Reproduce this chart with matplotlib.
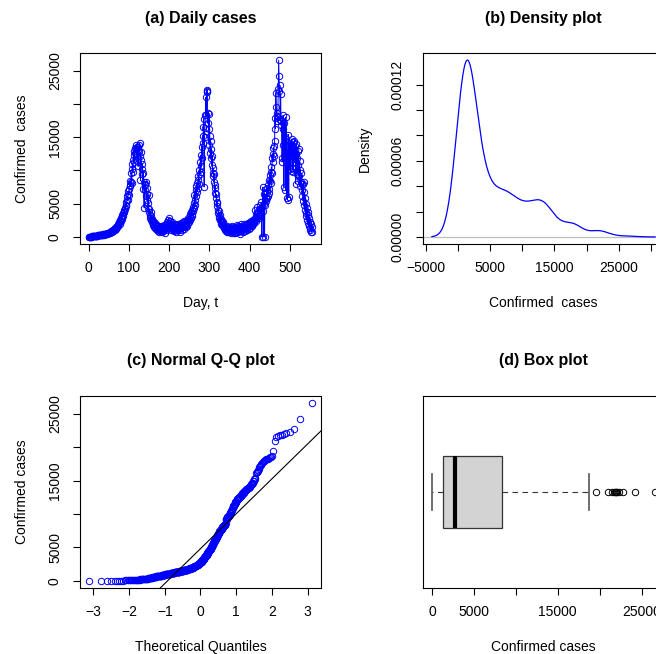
import numpy as np
import matplotlib
matplotlib.use("Agg")
import matplotlib.pyplot as plt
from statistics import NormalDist

# daily confirmed cases, day 1 .. day 555
daily_cases = [
    12, 30, 18, 45, 36, 60, 52, 75, 68, 90,
    85, 110, 96, 130, 118, 150, 140, 165, 180, 158,
    200, 190, 215, 240, 222, 260, 248, 275, 290, 268,
    310, 295, 330, 350, 322, 370, 390, 355, 410, 430,
    400, 455, 480, 440, 510, 530, 495, 560, 590, 545,
    620, 660, 610, 700, 750, 690, 820, 880, 800, 950,
    1020, 960, 1120, 1200, 1090, 1300, 1380, 1260, 1500, 1620,
    1480, 1750, 1900, 1700, 2050, 2200, 1980, 2400, 2600, 2350,
    2800, 3100, 2700, 3300, 3600, 3200, 3800, 4100, 3700, 4400,
    4200, 4800, 5200, 4600, 5600, 6100, 5500, 6400, 6900, 6300,
    7200, 7800, 8400, 7600, 8200, 9600, 8100, 10200, 10900, 9800,
    11500, 12300, 11200, 12900, 13400, 12600, 13200, 13800, 12400, 13500,
    11800, 13100, 10600, 13600, 12900, 13900, 14100, 12200, 8500, 12700,
    11500, 10200, 9400, 11000, 7200, 9600, 8300, 4400, 7800, 8000,
    7000, 8300, 6200, 7400, 5600, 6500, 5100, 4300, 6300, 3700,
    4200, 3300, 2900, 3800, 2600, 3100, 2300, 2700, 2000, 2400,
    1800, 2200, 1500, 1900, 1300, 2100, 1600, 1200, 1750, 1400,
    1100, 1650, 900, 1500, 1250, 800, 1400, 1050, 1700, 950,
    1300, 700, 1550, 1150, 850, 1450, 1000, 1800, 1200, 650,
    1600, 1350, 1900, 1100, 2200, 1500, 2500, 1700, 2800, 1400,
    2100, 1600, 2400, 1300, 1900, 1000, 1750, 2300, 1200, 1550,
    900, 1650, 1250, 2000, 1100, 1450, 800, 1850, 1350, 1000,
    1700, 1250, 1950, 1100, 1550, 750, 1800, 1300, 2100, 1400,
    1650, 1050, 1900, 1500, 2200, 1250, 1750, 2400, 1600, 2000,
    1450, 2300, 1850, 2600, 1700, 2500, 2100, 2900, 2300, 2700,
    3100, 2600, 3400, 2900, 3700, 3200, 4100, 3500, 4500, 3900,
    5100, 4400, 6300, 4800, 5600, 7000, 6100, 7600, 8100, 6800,
    7400, 8600, 9200, 7900, 10100, 9400, 11200, 9700, 12300, 10600,
    13600, 11800, 15200, 14100, 16600, 17800, 7500, 15000, 16400, 18300,
    21000, 18400, 22000, 21800, 22100, 17100, 18700, 16200, 13900, 18500,
    15200, 12600, 14500, 11800, 13300, 10800, 12100, 9600, 10400, 9100,
    8300, 9500, 7400, 6600, 7800, 5900, 6400, 5100, 4600, 5300,
    4100, 3600, 3900, 3100, 2800, 3300, 2600, 2300, 2700, 2000,
    2400, 1800, 2200, 1600, 1900, 1400, 1700, 1250, 1550, 1100,
    1450, 950, 1300, 800, 1600, 1150, 700, 1350, 1000, 1500,
    850, 1250, 600, 1400, 1050, 750, 1700, 900, 1200, 650,
    1550, 1000, 1300, 550, 1450, 1150, 800, 1800, 1050, 1350,
    700, 1600, 950, 1250, 500, 1450, 1100, 1900, 850, 1300,
    1650, 1000, 1500, 750, 1200, 1950, 1400, 900, 1750, 1150,
    1550, 1300, 2000, 1050, 1700, 1450, 2100, 1250, 1850, 1600,
    2200, 1400, 1950, 2400, 1750, 2100, 1600, 2500, 1900, 2300,
    2700, 2100, 4000, 2500, 3000, 2400, 3400, 2800, 4500, 3100,
    3600, 2900, 4200, 3300, 4800, 3800, 4400, 3500, 5200, 0,
    4600, 3900, 7500, 0, 5000, 6500, 0, 5600, 4800, 6000,
    5400, 6800, 5900, 7300, 6200, 7800, 6600, 8500, 7200, 9300,
    8400, 9700, 8100, 10500, 9600, 11800, 12500, 11300, 13400, 12200,
    13700, 14500, 17900, 16300, 21700, 19500, 18600, 18200, 17400, 18100,
    22300, 26600, 24200, 21900, 22800, 17600, 21500, 16800, 17500, 11800,
    11300, 16300, 18300, 13900, 7500, 17200, 12400, 15000, 7000, 18000,
    14700, 5800, 13200, 5600, 12600, 15400, 6000, 13800, 10200, 14200,
    12800, 9900, 13500, 14700, 12100, 10400, 14300, 9700, 13100, 12400,
    14500, 11200, 13700, 8000, 12500, 14000, 9500, 11800, 12900, 8400,
    10800, 13200, 9200, 11400, 7600, 10100, 8200, 9600, 7100, 8000,
    6200, 7900, 5400, 8300, 4800, 6700, 4100, 5800, 3600, 5000,
    3100, 4400, 2600, 3800, 2100, 3300, 1700, 2800, 1400, 2300,
    1100, 1900, 700, 1500, 800,
]

case_ticks = [0, 5000, 10000, 15000, 20000, 25000]
case_tick_labels = ["0", "5000", "", "15000", "", "25000"]
day_ticks = [0, 100, 200, 300, 400, 500]
dens_x_ticks = [-5000, 0, 5000, 10000, 15000, 20000, 25000, 30000]
dens_x_labels = ["\u22125000", "", "5000", "", "15000", "", "25000", ""]
dens_y_ticks = [0, 2e-5, 4e-5, 6e-5, 8e-5, 1e-4, 1.2e-4]
dens_y_labels = ["0.00000", "", "", "0.00006", "", "", "0.00012"]
qq_ticks = [-3, -2, -1, 0, 1, 2, 3]

BLUE = "#0000FF"
plt.rcParams["font.family"] = ["Liberation Sans", "DejaVu Sans"]
plt.rcParams["axes.unicode_minus"] = True

y = np.array(daily_cases, dtype=float)
n = len(y)
days = np.arange(1, n + 1)


def padded(lo, hi):
    d = 0.04 * (hi - lo)
    return lo - d, hi + d


W, H = 656, 654
fig = plt.figure(figsize=(W / 100, H / 100), dpi=100)


def panel(x0, top, w, h):
    ax = fig.add_axes([x0 / W, 1 - (top + h) / H, w / W, h / H])
    for s in ax.spines.values():
        s.set_linewidth(0.8)
    ax.tick_params(direction="out", length=5, width=0.8, labelsize=10, pad=7.5)
    ax.tick_params(axis="y", pad=8)
    ax._px = (w, h)
    return ax


def texts(ax, title, xlabel, ylabel=None):
    w, h = ax._px
    ax.text(0.5, 1 + 35 / h, title, transform=ax.transAxes, ha="center",
            va="center", fontsize=11.5, fontweight="bold")
    ax.text(0.5, -59 / h, xlabel, transform=ax.transAxes, ha="center",
            va="center", fontsize=10)
    if ylabel:
        ax.text(-58 / w, 0.5, ylabel, transform=ax.transAxes, ha="center",
                va="center", rotation=90, fontsize=10)


ax_a = panel(80, 53, 241, 191)
ax_b = panel(423, 53, 241, 191)
ax_c = panel(80, 396, 241, 192)
ax_d = panel(423, 396, 241, 192)

# (a) daily cases
ax_a.plot(days, y, color=BLUE, lw=0.7, marker="o", ms=4.6, mfc="none",
          mec=BLUE, mew=0.7)
ax_a.set_xlim(*padded(days.min(), days.max()))
ax_a.set_ylim(*padded(y.min(), y.max()))
ax_a.set_xticks(day_ticks)
ax_a.set_yticks(case_ticks, case_tick_labels, rotation=90, va="center")
texts(ax_a, "(a) Daily cases", "Day, t", "Confirmed  cases")

# (b) density, gaussian kernel with bw.nrd0
q1, q3 = np.quantile(y, [0.25, 0.75])
bw = 0.9 * min(y.std(ddof=1), (q3 - q1) / 1.34) * n ** -0.2
grid = np.linspace(y.min() - 3 * bw, y.max() + 3 * bw, 512)
dens = np.exp(-0.5 * ((grid[:, None] - y[None, :]) / bw) ** 2).sum(1)
dens /= n * bw * np.sqrt(2 * np.pi)
ax_b.axhline(0, color="#BEBEBE", lw=0.9)
ax_b.plot(grid, dens, color=BLUE, lw=0.9)
ax_b.set_xlim(*padded(grid.min(), grid.max()))
ax_b.set_ylim(*padded(0, dens.max()))
ax_b.set_xticks(dens_x_ticks, dens_x_labels)
ax_b.set_yticks(dens_y_ticks, dens_y_labels, rotation=90, va="center")
texts(ax_b, "(b) Density plot", "Confirmed  cases", "Density")

# (c) normal Q-Q plot
nd = NormalDist()
theo = np.array([nd.inv_cdf((i - 0.5) / n) for i in range(1, n + 1)])
ax_c.plot(theo, np.sort(y), ls="none", marker="o", ms=4.6, mfc="none",
          mec=BLUE, mew=0.7)
z1, z3 = nd.inv_cdf(0.25), nd.inv_cdf(0.75)
slope = (q3 - q1) / (z3 - z1)
ax_c.axline((0, q1 - slope * z1), slope=slope, color="black", lw=0.8)
ax_c.set_xlim(*padded(theo.min(), theo.max()))
ax_c.set_ylim(*padded(y.min(), y.max()))
ax_c.set_xticks(qq_ticks)
ax_c.set_yticks(case_ticks, case_tick_labels, rotation=90, va="center")
texts(ax_c, "(c) Normal Q-Q plot", "Theoretical Quantiles", "Confirmed cases")

# (d) box plot
ax_d.boxplot(y, orientation="horizontal", widths=0.4, capwidths=0.2,
             patch_artist=True,
             boxprops=dict(facecolor="#D3D3D3", edgecolor="#333333", lw=0.9),
             medianprops=dict(color="black", lw=3),
             whiskerprops=dict(color="#333333", lw=0.8, ls=(0, (5, 4))),
             capprops=dict(color="#555555", lw=1.2),
             flierprops=dict(marker="o", ms=4.6, mfc="none", mec="black",
                             mew=0.7))
ax_d.set_xlim(*padded(y.min(), y.max()))
ax_d.set_ylim(0.46, 1.54)
ax_d.set_yticks([])
ax_d.set_xticks(case_ticks, case_tick_labels)
texts(ax_d, "(d) Box plot", "Confirmed cases")

fig.savefig("out.png", dpi=100)
